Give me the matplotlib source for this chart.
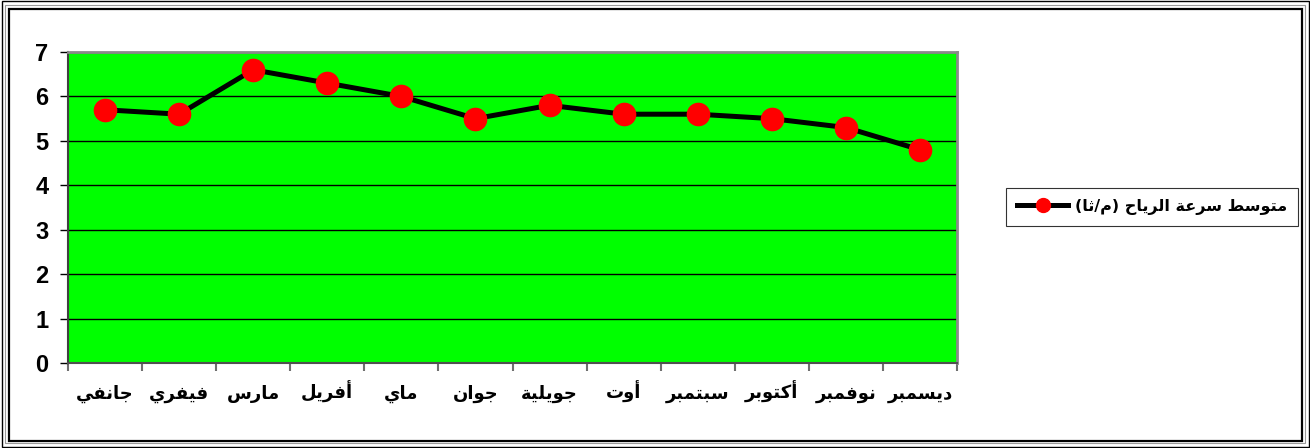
import matplotlib
matplotlib.use("Agg")
import matplotlib.pyplot as plt
from matplotlib.patches import Rectangle
from matplotlib.lines import Line2D

months = ['جانفي', 'فيفري', 'مارس', 'أفريل', 'ماي', 'جوان',
          'جويلية', 'أوت', 'سبتمبر', 'أكتوبر', 'نوفمبر', 'ديسمبر']
wind_speed = [5.7, 5.6, 6.6, 6.3, 6.0, 5.5, 5.8, 5.6, 5.6, 5.5, 5.3, 4.8]
series_label = 'متوسط سرعة الرياح (م/ثا)'
y_ticks = [0, 1, 2, 3, 4, 5, 6, 7]

# presentation forms: isolated, final, initial, medial
FORMS = {
    'ا': (0xFE8D, 0xFE8E, None, None),
    'أ': (0xFE83, 0xFE84, None, None),
    'ب': (0xFE8F, 0xFE90, 0xFE91, 0xFE92),
    'ة': (0xFE93, 0xFE94, None, None),
    'ت': (0xFE95, 0xFE96, 0xFE97, 0xFE98),
    'ث': (0xFE99, 0xFE9A, 0xFE9B, 0xFE9C),
    'ج': (0xFE9D, 0xFE9E, 0xFE9F, 0xFEA0),
    'ح': (0xFEA1, 0xFEA2, 0xFEA3, 0xFEA4),
    'د': (0xFEA9, 0xFEAA, None, None),
    'ر': (0xFEAD, 0xFEAE, None, None),
    'س': (0xFEB1, 0xFEB2, 0xFEB3, 0xFEB4),
    'ط': (0xFEC1, 0xFEC2, 0xFEC3, 0xFEC4),
    'ع': (0xFEC9, 0xFECA, 0xFECB, 0xFECC),
    'ف': (0xFED1, 0xFED2, 0xFED3, 0xFED4),
    'ك': (0xFED9, 0xFEDA, 0xFEDB, 0xFEDC),
    'ل': (0xFEDD, 0xFEDE, 0xFEDF, 0xFEE0),
    'م': (0xFEE1, 0xFEE2, 0xFEE3, 0xFEE4),
    'ن': (0xFEE5, 0xFEE6, 0xFEE7, 0xFEE8),
    'و': (0xFEED, 0xFEEE, None, None),
    'ي': (0xFEF1, 0xFEF2, 0xFEF3, 0xFEF4),
}
MIRROR = {'(': ')', ')': '('}


def dual(c):
    return c in FORMS and FORMS[c][2] is not None


def shape(text):
    # join letters and lay them out right to left
    out = []
    for i, c in enumerate(text):
        if c not in FORMS:
            out.append(MIRROR.get(c, c))
            continue
        prev = text[i - 1] if i > 0 else ''
        nxt = text[i + 1] if i + 1 < len(text) else ''
        join_prev = dual(prev)
        join_next = dual(c) and nxt in FORMS
        iso, fin, ini, med = FORMS[c]
        if join_prev and join_next:
            cp = med
        elif join_prev:
            cp = fin
        elif join_next:
            cp = ini
        else:
            cp = iso
        out.append(chr(cp))
    return ''.join(reversed(out))


plt.rcParams['font.family'] = ['DejaVu Sans']

fig = plt.figure(figsize=(13.1, 4.48), dpi=100)
W, H = 1310, 448

# double frame round the chart
fig.patches.append(Rectangle((1.5 / W, 1.5 / H), 1 - 3 / W, 1 - 3 / H,
                             transform=fig.transFigure, fill=False,
                             edgecolor='black', linewidth=1.0))
fig.patches.append(Rectangle((5 / W, 5 / H), 1 - 10 / W, 1 - 10 / H,
                             transform=fig.transFigure, fill=False,
                             edgecolor='#9a9a9a', linewidth=0.8))
fig.patches.append(Rectangle((9 / W, 7 / H), 1 - 17 / W, 1 - 16 / H,
                             transform=fig.transFigure, fill=False,
                             edgecolor='black', linewidth=1.6))

ax = fig.add_axes([68 / W, 1 - 363 / H, (957 - 68) / W, (363 - 52) / H])
ax.set_facecolor('#00ff00')

x = [i + 0.5 for i in range(len(months))]
ax.plot(x, wind_speed, color='black', linewidth=3.6, marker='o',
        markersize=16, markerfacecolor='red', markeredgecolor='red',
        zorder=3)

ax.set_xlim(0, len(months))
ax.set_ylim(0, 7)
ax.set_yticks(y_ticks)
ax.set_yticklabels([str(v) for v in y_ticks])
for lbl in ax.get_yticklabels():
    lbl.set_fontfamily('Liberation Sans')
    lbl.set_fontweight('bold')
    lbl.set_fontsize(17)
ax.yaxis.grid(True, color='black', linewidth=1.0)
ax.set_axisbelow(True)

ax.set_xticks(range(len(months) + 1))
ax.set_xticklabels([])
ax.set_xticks(x, minor=True)
ax.set_xticklabels([shape(m) for m in months], minor=True)
for lbl in ax.get_xticklabels(minor=True):
    lbl.set_fontweight('bold')
    lbl.set_fontsize(13)
    lbl.set_verticalalignment('baseline')
ax.tick_params(axis='x', which='minor', length=0, pad=26)
ax.tick_params(axis='x', which='major', length=6, color='#707070', width=1.5)
ax.tick_params(axis='y', length=6, color='black', width=1, pad=8)

ax.spines['top'].set_color('#8a8a8a')
ax.spines['top'].set_linewidth(2)
ax.spines['right'].set_color('#8a8a8a')
ax.spines['right'].set_linewidth(2)
ax.spines['left'].set_color('#404040')
ax.spines['left'].set_linewidth(1.5)
ax.spines['bottom'].set_color('#505050')
ax.spines['bottom'].set_linewidth(1.5)

handle = Line2D([], [], color='black', linewidth=3.6, marker='o',
                markersize=10, markerfacecolor='red', markeredgecolor='red')
leg = fig.legend([handle], [shape(series_label)],
                 loc='center', bbox_to_anchor=(1152 / W, 1 - 207 / H),
                 frameon=True, fancybox=False, handlelength=3.2,
                 handletextpad=0.4, borderpad=0.7,
                 prop={'weight': 'bold', 'size': 11.5})
leg.get_frame().set_edgecolor('black')
leg.get_frame().set_linewidth(0.8)

fig.savefig('out.png', dpi=100, facecolor='white')
